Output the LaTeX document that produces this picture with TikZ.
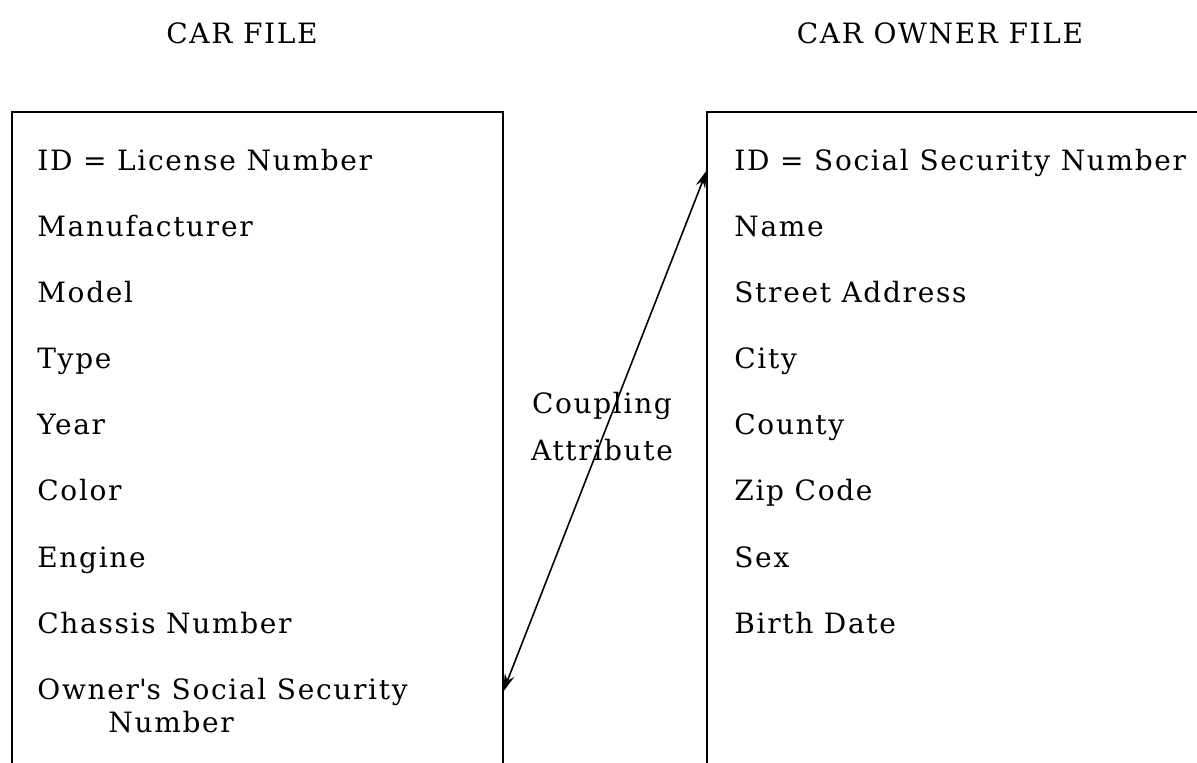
\documentclass[tikz,border=0pt]{standalone}
\usepackage{fontspec}
\setmainfont{DejaVu Serif}[LetterSpace=6]
\usepackage{tikz}
\usetikzlibrary{positioning}
\usetikzlibrary{arrows.meta}

\begin{document}
\begin{tikzpicture}[x=0.5pt, y=-0.5pt,
    Field/.style = {anchor=west, inner sep=0pt, text height=10.5pt, text depth=3pt, font=\fontsize{14}{18}\selectfont},
    Title/.style = {inner sep=0pt, font=\fontsize{14}{18}\selectfont},
    Frame/.style = {line width=1pt},
    Link/.style = {line width=0.8pt, {Stealth[length=9pt,width=5pt]}-{Stealth[length=9pt,width=5pt]}}]

    \useasboundingbox (0,0) rectangle (1197,763);

    %Titles
    \node[Title] (CarTitle) at (242,33) {CAR FILE};
    \node[Title] (OwnerTitle) at (940,33) {CAR OWNER FILE};

    %Frames
    \coordinate (CarTopLeft) at (12,112);
    \coordinate (CarTopRight) at (503,112);
    \coordinate (CarLowLeft) at (12,763);
    \coordinate (CarLowRight) at (503,763);
    \coordinate (OwnerTopLeft) at (707,112);
    \coordinate (OwnerTopRight) at (1197,112);
    \coordinate (OwnerLowLeft) at (707,763);

    \draw[Frame] (CarLowLeft) -- (CarTopLeft) -- (CarTopRight) -- (CarLowRight);
    \draw[Frame] (OwnerLowLeft) -- (OwnerTopLeft) -- (OwnerTopRight);

    %-------------------------------------------
    %Car fields
    \node[Field] (CarID) at (37,163) {ID = License Number};
    \node[Field, below right = 19.15pt and 0pt of CarID.south west] (Maker) {Manufacturer};
    \node[Field, below right = 19.15pt and 0pt of Maker.south west] (Model) {Model};
    \node[Field, below right = 19.15pt and 0pt of Model.south west] (Type) {Type};
    \node[Field, below right = 19.15pt and 0pt of Type.south west] (Year) {Year};
    \node[Field, below right = 19.15pt and 0pt of Year.south west] (Color) {Color};
    \node[Field, below right = 19.15pt and 0pt of Color.south west] (Engine) {Engine};
    \node[Field, below right = 19.15pt and 0pt of Engine.south west] (Chassis) {Chassis Number};
    \node[Field, below right = 19.15pt and 0pt of Chassis.south west] (OwnerSSN) {Owner\textquotesingle s Social Security};
    \node[Field, below right = 2.5pt and 35.5pt of OwnerSSN.south west] (OwnerSSNCont) {Number};

    %Owner fields
    \node[Field] (OwnerID) at (734,163) {ID = Social Security Number};
    \node[Field, below right = 19.15pt and 0pt of OwnerID.south west] (Name) {Name};
    \node[Field, below right = 19.15pt and 0pt of Name.south west] (Street) {Street Address};
    \node[Field, below right = 19.15pt and 0pt of Street.south west] (City) {City};
    \node[Field, below right = 19.15pt and 0pt of City.south west] (County) {County};
    \node[Field, below right = 19.15pt and 0pt of County.south west] (Zip) {Zip Code};
    \node[Field, below right = 19.15pt and 0pt of Zip.south west] (Sex) {Sex};
    \node[Field, below right = 19.15pt and 0pt of Sex.south west] (Birth) {Birth Date};

    %-------------------------------------------
    %Coupling
    \coordinate (CarLink) at (503,692);
    \coordinate (OwnerLink) at (707,170);
    \draw[Link] (CarLink) -- (OwnerLink);

    \node[align=center, inner sep=0pt, font=\fontsize{14}{23.5}\selectfont] (Coupling) at (602,427) {Coupling\\Attribute};

\end{tikzpicture}
\end{document}
